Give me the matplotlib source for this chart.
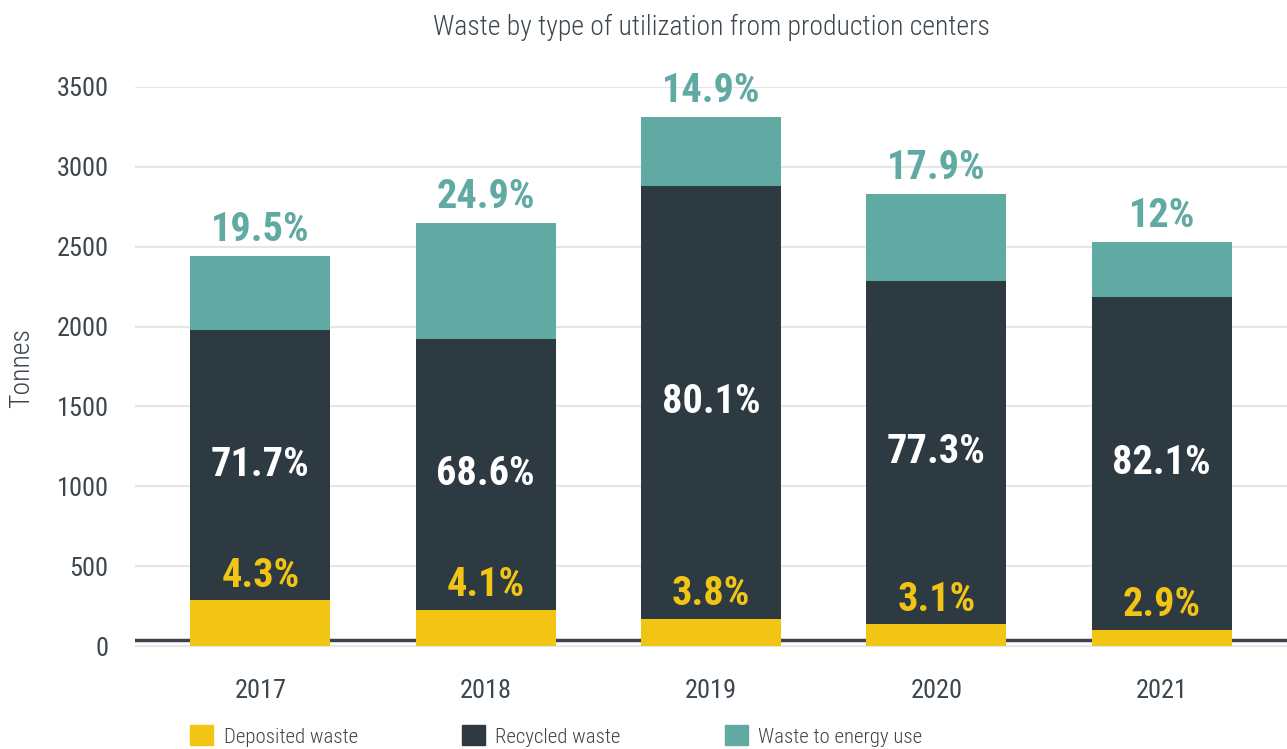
import matplotlib
matplotlib.use("Agg")
import matplotlib.pyplot as plt
from matplotlib import font_manager as fm
from matplotlib.patches import Patch

years = ["2017", "2018", "2019", "2020", "2021"]
deposited = [287, 225, 169, 137, 100]
recycled = [1694, 1700, 2712, 2150, 2087]
energy = [463, 725, 431, 544, 344]
pct_deposited = ["4.3%", "4.1%", "3.8%", "3.1%", "2.9%"]
pct_recycled = ["71.7%", "68.6%", "80.1%", "77.3%", "82.1%"]
pct_energy = ["19.5%", "24.9%", "14.9%", "17.9%", "12%"]
series_names = ["Deposited waste", "Recycled waste", "Waste to energy use"]
yticks = [0, 500, 1000, 1500, 2000, 2500, 3000, 3500]

YELLOW = "#F2C514"
DARK = "#2E3A42"
TEAL = "#61AAA3"
TXT = "#3C464E"

names = {f.name for f in fm.fontManager.ttflist}
fam = "DejaVu Sans"
for cand in ["Roboto Condensed", "Liberation Sans Narrow", "Open Sans Condensed"]:
    if cand in names:
        fam = cand
        break
plt.rcParams["font.family"] = [fam, "DejaVu Sans"]

fig = plt.figure(figsize=(12.87, 7.49), dpi=100)
ax = fig.add_axes([135 / 1287, 1 - 648.4 / 749, 1 - 135 / 1287, (648.4 - 87) / 749])

x = list(range(len(years)))
w = 0.62
ax.bar(x, deposited, w, color=YELLOW, zorder=3, label=series_names[0])
bottom2 = deposited
ax.bar(x, recycled, w, bottom=bottom2, color=DARK, zorder=3, label=series_names[1])
bottom3 = [d + r for d, r in zip(deposited, recycled)]
ax.bar(x, energy, w, bottom=bottom3, color=TEAL, zorder=3, label=series_names[2])

for i in x:
    ax.text(i, deposited[i] + 35, pct_deposited[i], ha="center", va="bottom",
            color=YELLOW, fontsize=29, fontweight="bold", zorder=4)
    ax.text(i, deposited[i] + recycled[i] / 2, pct_recycled[i], ha="center", va="center",
            color="white", fontsize=29, fontweight="bold", zorder=4)
    ax.text(i, bottom3[i] + energy[i] + 42, pct_energy[i], ha="center", va="bottom",
            color=TEAL, fontsize=29, fontweight="bold", zorder=4)

ax.set_xlim(-0.556, 4.556)
ax.set_ylim(-15, 3500)
ax.set_yticks(yticks)
ax.set_yticklabels([str(t) for t in yticks])
ax.set_xticks(x)
ax.set_xticklabels(years)
ax.tick_params(axis="y", length=0, pad=19, labelsize=19, labelcolor=TXT)
ax.tick_params(axis="x", length=0, pad=22, labelsize=19, labelcolor=TXT)
for s in ax.spines.values():
    s.set_visible(False)
ax.set_axisbelow(True)
ax.grid(axis="y", color="#E6E6E6", linewidth=1.6)
ax.axhline(37, color="#3A434B", linewidth=2.5, zorder=1)
ax.set_ylabel("Tonnes", fontsize=20, color=TXT, fontweight="light")
ax.yaxis.set_label_coords(-100 / 1152, 0.5)

fig.text(711 / 1287, 1 - 27 / 749, "Waste by type of utilization from production centers",
         ha="center", va="center", fontsize=20, color=TXT, fontweight="light")

handles = [Patch(color=YELLOW), Patch(color=DARK), Patch(color=TEAL)]
fig.legend(handles, series_names, loc="center left", bbox_to_anchor=(182 / 1287, 1 - 736 / 749),
           ncol=3, frameon=False, fontsize=15, labelcolor=TXT, handlelength=1.1, handleheight=1.1,
           handletextpad=0.5, columnspacing=5.0, borderaxespad=0,
           prop={"size": 15, "weight": "light"})

fig.savefig("out.png", dpi=100)
